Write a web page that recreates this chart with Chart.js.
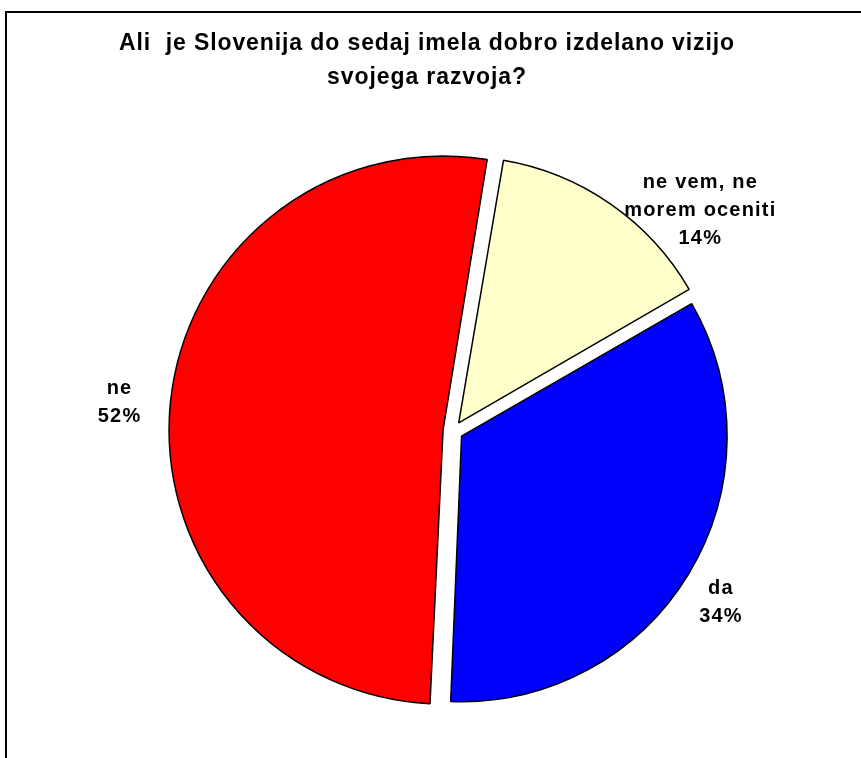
<!DOCTYPE html>
<html>
<head>
<meta charset="utf-8">
<script src="https://cdn.jsdelivr.net/npm/chart.js@4/dist/chart.umd.min.js"></script>
<style>
  body { margin: 0; background: #fff; overflow: hidden; }
  #wrap { position: relative; width: 861px; height: 758px; }
  #frame { position: absolute; left: 5px; top: 11px; width: 900px; height: 800px;
           border-top: 2px solid #000; border-left: 2px solid #000; }
  canvas { position: absolute; left: 0; top: 0; }
</style>
</head>
<body>
<div id="wrap">
  <div id="frame"></div>
  <canvas id="pieChart" width="861" height="758"></canvas>
</div>
<script>
// answers and shares (%)
const categories = [['da'], ['ne'], ['ne vem, ne', 'morem oceniti']];
const shares = [34, 52, 14];
const sliceColors = ['#0000FF', '#FF0000', '#FFFFCC'];
const titleLines = ['Ali  je Slovenija do sedaj imela dobro izdelano vizijo', 'svojega razvoja?'];

// label placement: distance as multiple of radius plus a small nudge
const labelDist = [1.2, 1.27, 1.25];
const labelNudge = [[-3, 7], [0, 7], [59, 50]];

// title drawn by hand so it can sit left of the pie centre, like the original
const titleBlock = {
    id: 'titleBlock',
    afterDraw(chart) {
        const ctx = chart.ctx;
        ctx.save();
        ctx.font = 'bold 23px "Liberation Sans", Arial, sans-serif';
        ctx.letterSpacing = '0.9px';
        ctx.fillStyle = '#000';
        ctx.textAlign = 'center';
        ctx.textBaseline = 'alphabetic';
        titleLines.forEach((t, k) => ctx.fillText(t, 427, 50 + k * 34));
        ctx.restore();
    }
};

const outsideLabels = {
    id: 'outsideLabels',
    afterDatasetsDraw(chart) {
        const ctx = chart.ctx;
        const meta = chart.getDatasetMeta(0);
        const data = chart.data.datasets[0].data;
        const total = data.reduce((a, b) => a + b, 0);
        ctx.save();
        ctx.font = 'bold 20px "Liberation Sans", Arial, sans-serif';
        ctx.letterSpacing = '1.2px';
        ctx.fillStyle = '#000';
        ctx.textAlign = 'center';
        ctx.textBaseline = 'middle';
        meta.data.forEach((arc, i) => {
            const mid = (arc.startAngle + arc.endAngle) / 2;
            const r = arc.outerRadius * labelDist[i];
            const x = arc.x + Math.cos(mid) * r + labelNudge[i][0];
            const y = arc.y + Math.sin(mid) * r + labelNudge[i][1];
            const lines = categories[i].concat([Math.round(data[i] / total * 100) + '%']);
            const lh = 28;
            const y0 = y - (lines.length - 1) * lh / 2;
            lines.forEach((t, k) => ctx.fillText(t, x, y0 + k * lh));
        });
        ctx.restore();
    }
};

const ctx = document.getElementById('pieChart').getContext('2d');
new Chart(ctx, {
    type: 'pie',
    data: {
        labels: categories,
        datasets: [{
            data: shares,
            backgroundColor: sliceColors,
            borderColor: '#000',
            borderWidth: 1.5,
            offset: 40
        }]
    },
    options: {
        responsive: false,
        animation: false,
        rotation: 60,
        radius: 264,
        layout: { padding: { left: 45, right: 0, top: 104, bottom: 0 } },
        plugins: {
            legend: { display: false },
            tooltip: { enabled: false },
            title: { display: false }
        }
    },
    plugins: [titleBlock, outsideLabels]
});
</script>
</body>
</html>
